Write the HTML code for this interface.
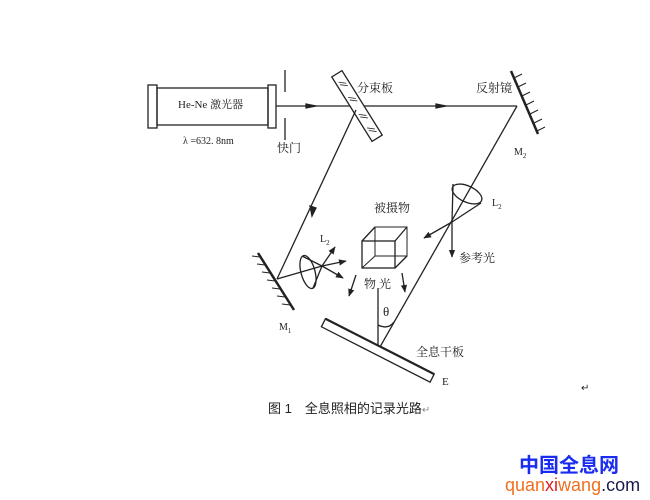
<!DOCTYPE html>
<html><head><meta charset="utf-8"><style>
body{margin:0;background:#fff;width:650px;height:500px;overflow:hidden}
svg{display:block}
text{font-family:"Liberation Serif","Noto Serif CJK SC",serif;fill:#222}
</style></head><body>
<svg width="650" height="500" viewBox="0 0 650 500" xmlns="http://www.w3.org/2000/svg">
<defs><marker id="a" viewBox="0 0 10 10" refX="9" refY="5" markerWidth="6" markerHeight="6" orient="auto"><path d="M0,1 L10,5 L0,9 z" fill="#222"/></marker></defs>
<g stroke="#222" stroke-width="1.3" fill="none">
<!-- laser -->
<rect x="148" y="85" width="9" height="43"/>
<rect x="157" y="88" width="111" height="37"/>
<rect x="268" y="85" width="8" height="43"/>
<!-- shutter -->
<line x1="285" y1="70" x2="285" y2="92"/>
<line x1="285" y1="118" x2="285" y2="140"/>
<!-- main beam -->
<line x1="276" y1="106" x2="517" y2="106"/>
<path d="M306,104 L316,106 L306,108z" fill="#222"/>
<path d="M436,104 L446,106 L436,108z" fill="#222"/>
<!-- beam splitter -->
<g transform="translate(357,106) rotate(58)">
<rect x="-38" y="-6" width="76" height="12" fill="#fff"/>
<path d="M-30,3 l5,-6 M-27,3 l5,-6 M-12,3 l5,-6 M-9,3 l5,-6 M8,3 l5,-6 M11,3 l5,-6 M24,3 l5,-6 M27,3 l5,-6" stroke-width="0.8"/>
</g>
<line x1="356" y1="110" x2="277" y2="279"/>
<path d="M310,206 L312,216 L316,208z" fill="#222"/>
<!-- M2 -->
<line x1="511" y1="71" x2="538" y2="134" stroke-width="2.5"/>
<path d="M514,78 l8,-4 M518,87 l8,-4 M522,96 l8,-4 M526,105 l8,-4 M530,114 l8,-4 M534,123 l8,-4 M537,131 l8,-4" stroke-width="1"/>
<!-- reference beam -->
<line x1="517" y1="106" x2="380" y2="347"/>
<ellipse cx="467" cy="194" rx="16" ry="8" transform="rotate(25 467 194)"/>
<line x1="453" y1="184" x2="452" y2="222"/>
<line x1="481" y1="203" x2="452" y2="222"/>
<line x1="452" y1="222" x2="424" y2="238" marker-end="url(#a)"/>
<line x1="452" y1="222" x2="452" y2="257" marker-end="url(#a)"/>
<!-- M1 -->
<line x1="258" y1="253" x2="294" y2="310" stroke-width="2.5"/>
<path d="M260,257 l-8,-1 M265,265 l-8,-1 M270,273 l-8,-1 M275,281 l-8,-1 M280,289 l-8,-1 M285,297 l-8,-1 M290,305 l-8,-1" stroke-width="1"/>
<line x1="277" y1="279" x2="322" y2="266"/>
<ellipse cx="308" cy="272" rx="7" ry="17" transform="rotate(-15 308 272)"/>
<line x1="302" y1="256" x2="322" y2="266"/>
<line x1="313" y1="288" x2="322" y2="266"/>
<line x1="322" y1="266" x2="335" y2="247" marker-end="url(#a)"/>
<line x1="322" y1="266" x2="346" y2="261" marker-end="url(#a)"/>
<line x1="322" y1="266" x2="343" y2="278" marker-end="url(#a)"/>
<!-- cube -->
<rect x="362" y="241" width="33" height="27"/>
<rect x="375" y="227" width="32" height="29" stroke-width="1"/>
<line x1="362" y1="241" x2="375" y2="227"/>
<line x1="395" y1="241" x2="407" y2="227"/>
<line x1="395" y1="268" x2="407" y2="256"/>
<line x1="362" y1="268" x2="375" y2="256" stroke-width="1"/>
<line x1="356" y1="275" x2="349" y2="296" marker-end="url(#a)"/>
<line x1="402" y1="273" x2="405" y2="292" marker-end="url(#a)"/>
<line x1="378" y1="288" x2="378" y2="347"/>
<path d="M378,325 Q388,330 394,322"/>
<!-- plate -->
<g transform="translate(378,350) rotate(27)">
<rect x="-61" y="-4" width="122" height="9" fill="#fff"/>
<line x1="-61" y1="-4" x2="61" y2="-4" stroke-width="2.2"/>
</g>
</g>
<text x="178" y="108" font-size="11">He-Ne 激光器</text>
<text x="183" y="144" font-size="10">λ =632. 8nm</text>
<text x="277" y="152" font-size="12">快门</text>
<text x="357" y="92" font-size="12">分束板</text>
<text x="476" y="92" font-size="12">反射镜</text>
<text x="514" y="155" font-size="10">M<tspan font-size="7" dy="3">2</tspan></text>
<text x="492" y="206" font-size="10">L<tspan font-size="7" dy="3">2</tspan></text>
<text x="374" y="212" font-size="12">被摄物</text>
<text x="320" y="242" font-size="10">L<tspan font-size="7" dy="3">2</tspan></text>
<text x="459" y="262" font-size="12">参考光</text>
<text x="364" y="288" font-size="12">物 光</text>
<text x="383" y="316" font-size="13">θ</text>
<text x="279" y="330" font-size="10">M<tspan font-size="7" dy="3">1</tspan></text>
<text x="416" y="356" font-size="12">全息干板</text>
<text x="442" y="385" font-size="11">E</text>
<text x="581" y="391" font-size="10" fill="#888">↵</text>
<text x="268" y="413" font-size="13" style="font-family:'Liberation Sans','Noto Sans CJK SC',sans-serif">图 1　全息照相的记录光路<tspan fill="#888" font-size="10">↵</tspan></text>
<text x="519" y="472" font-size="20" font-weight="bold" fill="#1a2cf0" style="font-family:'Liberation Sans','Noto Sans CJK SC',sans-serif;fill:#1a2cf0">中国全息网</text>
<text x="505" y="491" font-size="18" style="font-family:'Liberation Sans',sans-serif"><tspan fill="#f07020">quan</tspan><tspan fill="#e02020">xi</tspan><tspan fill="#f07020">wang</tspan><tspan fill="#1a1a4a">.com</tspan></text>
</svg>
</body></html>
